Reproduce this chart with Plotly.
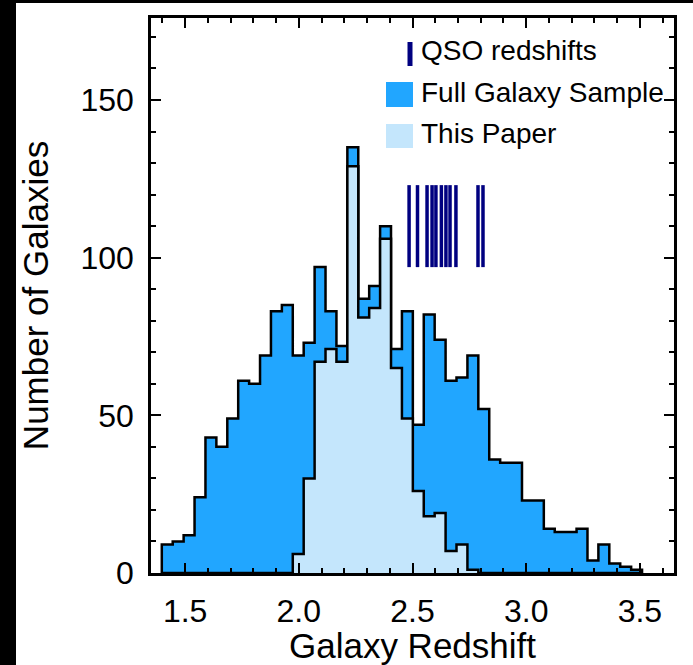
import plotly.graph_objects as go

# ---- data ----
bin_start = 1.3975
bin_width = 0.048
full_counts = [9, 10, 12, 24, 43, 40, 49, 61, 60, 69, 83, 85, 69, 73, 97, 83, 72, 135,
               87, 91, 110, 71, 83, 47, 82, 74, 61, 62, 69, 52, 36, 35, 35, 23, 23, 14,
               13, 13, 14, 4, 9, 3, 2, 1]
paper_counts = [0, 0, 0, 0, 0, 0, 0, 0, 0, 0, 0, 0, 6, 30, 67, 71, 67, 129,
                81, 84, 106, 65, 49, 26, 18, 19, 7, 9, 1, 0, 0, 0, 0, 0, 0, 0,
                0, 0, 0, 0, 0, 0, 0, 0]
qso_z = [2.485, 2.522, 2.564, 2.586, 2.603, 2.627, 2.647, 2.665, 2.691, 2.788, 2.810]
qso_ylow, qso_yhigh = 97, 123
x_ticks = [1.5, 2.0, 2.5, 3.0, 3.5]
x_ticklabels = ["1.5", "2.0", "2.5", "3.0", "3.5"]
y_ticks = [0, 50, 100, 150]

FULL_C = "#21A6FF"
PAPER_C = "#C4E6FC"
QSO_C = "#000080"
FONT = "Liberation Sans, Arial, Helvetica, sans-serif"


def step_xy(counts):
    edges = [bin_start + i * bin_width for i in range(len(counts) + 1)]
    xs = [edges[0]] + edges
    ys = [0] + list(counts) + [0]
    return xs, ys


fig = go.Figure()
for counts, color in [(full_counts, FULL_C), (paper_counts, PAPER_C)]:
    xs, ys = step_xy(counts)
    fig.add_trace(go.Scatter(x=xs, y=ys, mode="lines", line_shape="hv",
                             fill="tozeroy", fillcolor=color,
                             line=dict(color="black", width=2.5),
                             showlegend=False, hoverinfo="skip"))

qx, qy = [], []
for z in qso_z:
    qx += [z, z, None]
    qy += [qso_ylow, qso_yhigh, None]
fig.add_trace(go.Scatter(x=qx, y=qy, mode="lines",
                         line=dict(color=QSO_C, width=3.5),
                         showlegend=False, hoverinfo="skip"))

L, R, T, B = 151, 19, 18, 92
W, H = 693, 665
pw, ph = W - L - R, H - T - B


def px(x):
    return (x - L) / pw


def py(y):
    return (H - B - y) / ph


shapes = []
# black frame strips (left & top) of the original image
shapes.append(dict(type="rect", xref="paper", yref="paper", x0=px(0), x1=px(16),
                   y0=py(H), y1=py(0), fillcolor="black", line=dict(width=0), layer="below"))
shapes.append(dict(type="rect", xref="paper", yref="paper", x0=px(0), x1=px(W),
                   y0=py(3), y1=py(0), fillcolor="black", line=dict(width=0), layer="below"))
# legend keys
shapes.append(dict(type="rect", xref="paper", yref="paper", x0=px(407.5), x1=px(412.5),
                   y0=py(66), y1=py(42), fillcolor=QSO_C, line=dict(width=0)))
shapes.append(dict(type="rect", xref="paper", yref="paper", x0=px(386), x1=px(413),
                   y0=py(107), y1=py(82), fillcolor=FULL_C, line=dict(width=0)))
shapes.append(dict(type="rect", xref="paper", yref="paper", x0=px(386), x1=px(413),
                   y0=py(148), y1=py(124), fillcolor=PAPER_C, line=dict(width=0)))

annotations = []
for label, yc in [("QSO redshifts", 51), ("Full Galaxy Sample", 92.5), ("This Paper", 133.5)]:
    annotations.append(dict(text=label, xref="paper", yref="paper", x=px(419), y=py(yc),
                            xanchor="left", yanchor="middle", showarrow=False,
                            font=dict(size=28, color="black", family=FONT)))

axis_common = dict(showline=True, linecolor="black", linewidth=2.5, mirror="allticks",
                   ticks="inside", ticklen=10, tickwidth=2, tickcolor="black",
                   showgrid=False, zeroline=False,
                   tickfont=dict(size=32, color="black", family=FONT))

fig.update_layout(
    width=W, height=H,
    margin=dict(l=L, r=R, t=T, b=B, autoexpand=False),
    paper_bgcolor="white", plot_bgcolor="white",
    shapes=shapes, annotations=annotations,
    xaxis=dict(range=[1.35, 3.65], tickvals=x_ticks, ticktext=x_ticklabels,
               minor=dict(dtick=0.1, tick0=1.5, ticks="inside", ticklen=5, tickwidth=2,
                          tickcolor="black"),
               ticklabelstandoff=8,
               title=dict(text="Galaxy Redshift", font=dict(size=35, color="black", family=FONT),
                          standoff=8),
               **axis_common),
    yaxis=dict(range=[0, 176], tickvals=y_ticks,
               minor=dict(dtick=10, tick0=0, ticks="inside", ticklen=5, tickwidth=2,
                          tickcolor="black"),
               ticklabelstandoff=8,
               title=dict(text="Number of Galaxies", font=dict(size=35, color="black", family=FONT),
                          standoff=22),
               **axis_common),
)

fig.write_html("out.html")
